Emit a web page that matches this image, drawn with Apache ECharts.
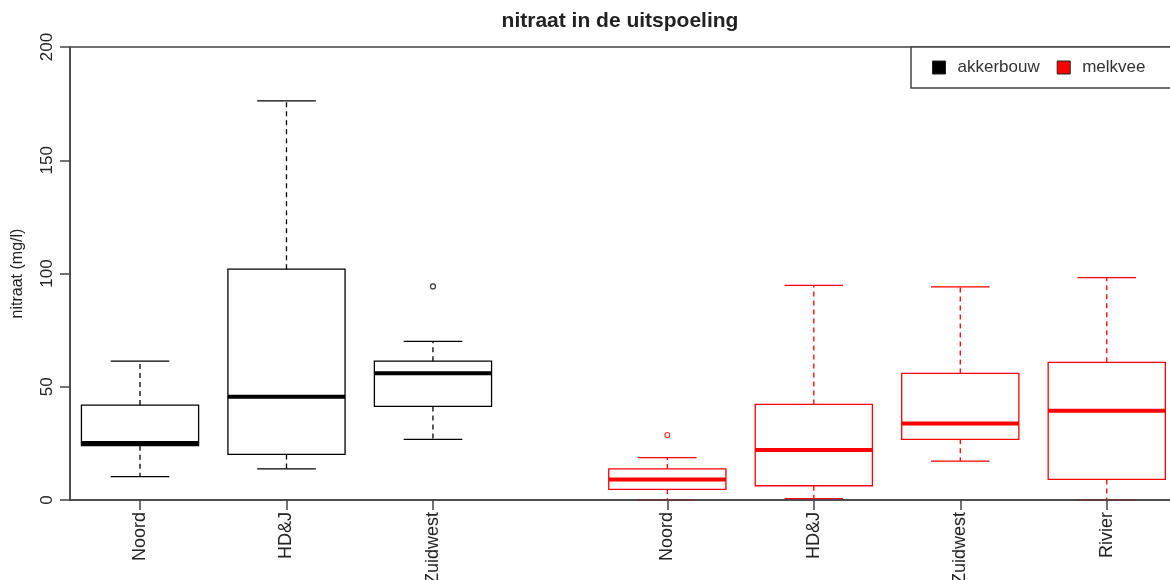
<!DOCTYPE html>
<html>
<head>
<meta charset="utf-8">
<script src="https://cdn.jsdelivr.net/npm/echarts@6/dist/echarts.min.js"></script>
<style>
  html, body { margin: 0; padding: 0; background: #fff; }
  #chart { width: 1170px; height: 580px; }
</style>
</head>
<body>
<div id="chart"></div>
<script>
// categories and positions along the x axis (R style "at=")
const groups = ['akkerbouw', 'melkvee'];
const groupColors = ['#000000', '#ff0000'];
const regions = ['Noord', 'HD&J', 'Zuidwest', 'Noord', 'HD&J', 'Zuidwest', 'Rivier'];
const positions = [1, 2, 3, 4.6, 5.6, 6.6, 7.6];
const groupOf = [0, 0, 0, 1, 1, 1, 1];

// box statistics, mg/l
const whiskerLow = [10.3, 13.7, 26.8, 0.0, 0.6, 17.2, 0.0];
const q1 = [24.0, 20.1, 41.3, 4.7, 6.3, 26.8, 9.1];
const median = [25.2, 45.6, 56.0, 9.0, 22.1, 33.8, 39.4];
const q3 = [41.9, 101.9, 61.3, 13.7, 42.2, 55.9, 60.8];
const whiskerHigh = [61.3, 176.2, 70.0, 18.7, 94.8, 94.1, 98.2];

// outliers
const outlierPos = [3, 4.6];
const outlierVal = [94.3, 28.7];
const outlierGroup = [0, 1];

const yTicks = [0, 50, 100, 150, 200];

const chart = echarts.init(document.getElementById('chart'));

function boxData(g) {
  const out = [];
  for (let i = 0; i < positions.length; i++) {
    if (groupOf[i] !== g) continue;
    out.push([positions[i], whiskerLow[i], q1[i], median[i], q3[i], whiskerHigh[i]]);
  }
  return out;
}

function makeRender(color) {
  return function (params, api) {
    const x = api.value(0);
    const pLow = api.coord([x, api.value(1)]);
    const pQ1 = api.coord([x, api.value(2)]);
    const pMed = api.coord([x, api.value(3)]);
    const pQ3 = api.coord([x, api.value(4)]);
    const pHigh = api.coord([x, api.value(5)]);
    const hw = api.size([0.4, 0])[0];
    const cw = hw / 2;
    const cx = pMed[0];
    const solid = { stroke: color, lineWidth: 1.3, fill: null };
    const dashed = { stroke: color, lineWidth: 1.3, lineDash: [5, 4], fill: null };
    return {
      type: 'group',
      children: [
        { type: 'line', shape: { x1: cx, y1: pQ3[1], x2: cx, y2: pHigh[1] }, style: dashed },
        { type: 'line', shape: { x1: cx, y1: pQ1[1], x2: cx, y2: pLow[1] }, style: dashed },
        { type: 'line', shape: { x1: cx - cw, y1: pHigh[1], x2: cx + cw, y2: pHigh[1] }, style: solid },
        { type: 'line', shape: { x1: cx - cw, y1: pLow[1], x2: cx + cw, y2: pLow[1] }, style: solid },
        { type: 'rect', shape: { x: cx - hw, y: pQ3[1], width: hw * 2, height: pQ1[1] - pQ3[1] }, style: solid },
        { type: 'line', shape: { x1: cx - hw, y1: pMed[1], x2: cx + hw, y2: pMed[1] }, style: { stroke: color, lineWidth: 4 } }
      ]
    };
  };
}

const series = [];
groups.forEach(function (name, g) {
  series.push({
    name: name,
    type: 'custom',
    renderItem: makeRender(groupColors[g]),
    data: boxData(g),
    itemStyle: { color: groupColors[g] },
    clip: false,
    z: 3
  });
  const pts = [];
  for (let i = 0; i < outlierPos.length; i++) {
    if (outlierGroup[i] === g) pts.push([outlierPos[i], outlierVal[i]]);
  }
  series.push({
    name: name,
    type: 'scatter',
    data: pts,
    symbol: 'circle',
    symbolSize: 5,
    itemStyle: { color: '#fff', borderColor: groupColors[g], borderWidth: 1.2 },
    z: 3
  });
});

const option = {
  animation: false,
  textStyle: { fontFamily: 'Liberation Sans, Arial, sans-serif' },
  title: {
    text: 'nitraat in de uitspoeling',
    left: 620,
    textAlign: 'center',
    top: 11,
    padding: 0,
    textStyle: { fontSize: 21, fontWeight: 'bold', color: '#222' }
  },
  legend: {
    left: 911,
    top: 47,
    width: 400,
    orient: 'horizontal',
    padding: [12, 40, 12, 21],
    itemWidth: 13,
    itemHeight: 13,
    itemGap: 17,
    backgroundColor: '#fff',
    borderColor: '#444',
    borderWidth: 1.5,
    textStyle: { fontSize: 17, color: '#333', lineHeight: 14, padding: [0, 0, 0, 7] },
    data: [
      { name: 'akkerbouw', icon: 'rect', itemStyle: { color: '#000', borderColor: '#222', borderWidth: 1 } },
      { name: 'melkvee', icon: 'rect', itemStyle: { color: '#ff0000', borderColor: '#222', borderWidth: 1 } }
    ]
  },
  grid: {
    left: 70,
    top: 47,
    right: -10,
    bottom: 80,
    outerBoundsMode: 'none',
    containLabel: false,
    show: true,
    borderColor: '#444',
    borderWidth: 1.5
  },
  xAxis: {
    type: 'value',
    min: 0.522,
    max: 8.1,
    z: 5,
    splitLine: { show: false },
    axisLine: { show: true, onZero: false, lineStyle: { color: '#444', width: 1.5 } },
    axisTick: { show: true, length: 10, customValues: positions, lineStyle: { color: '#444', width: 1.5 } },
    axisLabel: {
      customValues: positions,
      rotate: 90,
      margin: 12,
      fontSize: 18,
      color: '#222',
      formatter: function (v) {
        const i = positions.indexOf(v);
        return i >= 0 ? regions[i] : '';
      }
    }
  },
  yAxis: {
    type: 'value',
    min: 0,
    max: 200,
    interval: 50,
    name: 'nitraat (mg/l)',
    nameLocation: 'middle',
    nameRotate: 90,
    nameGap: 44,
    nameTextStyle: { fontSize: 16, color: '#222' },
    splitLine: { show: false },
    axisLine: { show: true, lineStyle: { color: '#444', width: 1.5 } },
    axisTick: { show: true, length: 10, lineStyle: { color: '#444', width: 1.5 } },
    axisLabel: {
      customValues: yTicks,
      rotate: 90,
      margin: 14,
      fontSize: 17,
      color: '#222'
    }
  },
  series: series
};

chart.setOption(option);
</script>
</body>
</html>
